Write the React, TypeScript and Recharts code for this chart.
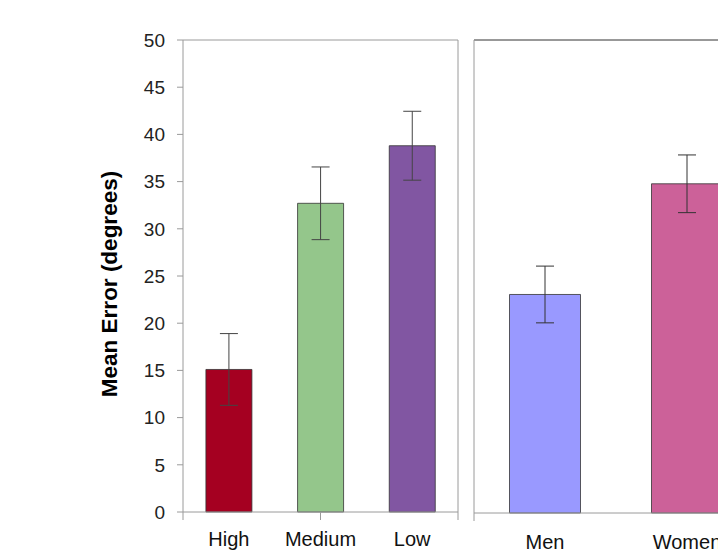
import React from 'react';
import { BarChart, Bar, XAxis, YAxis, ErrorBar, Cell, Label } from 'recharts';

const leftCategories = ['High', 'Medium', 'Low'];
const leftValues = [15.1, 32.7, 38.8];
const leftErrors = [3.8, 3.85, 3.65];
const leftColors = ['#A50021', '#94C68B', '#8156A2'];

const rightCategories = ['Men', 'Women'];
const rightValues = [23.1, 34.8];
const rightErrors = [3.0, 3.05];
const rightColors = ['#9999FF', '#CC6199'];

const yTicks = [0, 5, 10, 15, 20, 25, 30, 35, 40, 45, 50];
const leftBoundaryTicks = [0, 1, 2, 3];
const rightBoundaryTicks = [0, 1, 2];

const leftData = leftCategories.map((name, i) => ({ name, value: leftValues[i], err: leftErrors[i] }));
const rightData = rightCategories.map((name, i) => ({ name, value: rightValues[i], err: rightErrors[i] }));

const FONT = '"Liberation Sans", Arial, sans-serif';
const AXIS_GRAY = '#9a9a9a';

const EmptyTick = () => <g />;

const YLabel = (props: any) => {
  const vb = props.viewBox || { x: 0, y: 0, width: 0, height: 0 };
  const cx = vb.x + 109;
  const cy = vb.y + vb.height / 2 + 8;
  return (
    <text
      x={cx}
      y={cy}
      transform={`rotate(-90, ${cx}, ${cy})`}
      textAnchor="middle"
      dominantBaseline="central"
      fontFamily={FONT}
      fontWeight="bold"
      fontSize={22.5}
      fill="#000"
    >
      Mean Error (degrees)
    </text>
  );
};

export default function App() {
  return (
    <div
      style={{
        position: 'absolute',
        left: 0,
        top: 0,
        width: 718,
        height: 559,
        overflow: 'hidden',
        background: '#fff',
        fontFamily: FONT,
      }}
    >
      <div style={{ position: 'absolute', left: 0, top: 0 }}>
        <BarChart
          width={470}
          height={559}
          data={leftData}
          margin={{ top: 39, right: 11, bottom: 0, left: 0 }}
          barCategoryGap="25%"
        >
          <XAxis
            xAxisId={0}
            type="number"
            domain={[0, 3]}
            ticks={leftBoundaryTicks}
            interval={0}
            height={1}
            tick={EmptyTick}
            tickSize={8}
            tickLine={{ stroke: AXIS_GRAY }}
            axisLine={{ stroke: AXIS_GRAY }}
          />
          <XAxis
            xAxisId={1}
            dataKey="name"
            height={46}
            tickLine={false}
            axisLine={false}
            tickSize={8}
            tickMargin={11}
            tick={{ fill: '#111', fontSize: 20, fontFamily: FONT }}
          />
          <XAxis
            xAxisId={2}
            orientation="top"
            type="number"
            domain={[0, 3]}
            height={1}
            tick={false}
            tickLine={false}
            axisLine={{ stroke: AXIS_GRAY }}
          />
          <YAxis
            yAxisId={0}
            domain={[0, 50]}
            ticks={yTicks}
            interval={0}
            width={183}
            tickSize={6}
            tickMargin={12}
            tickLine={{ stroke: AXIS_GRAY }}
            axisLine={{ stroke: AXIS_GRAY }}
            tick={{ fill: '#222', fontSize: 19, fontFamily: FONT }}
          >
            <Label content={YLabel} />
          </YAxis>
          <YAxis
            yAxisId={1}
            orientation="right"
            domain={[0, 50]}
            width={1}
            tick={false}
            tickLine={false}
            axisLine={{ stroke: AXIS_GRAY }}
          />
          <Bar
            dataKey="value"
            xAxisId={1}
            yAxisId={0}
            isAnimationActive={false}
            stroke="#333"
            strokeWidth={0.8}
          >
            {leftData.map((d, i) => (
              <Cell key={d.name} fill={leftColors[i]} />
            ))}
            <ErrorBar dataKey="err" direction="y" width={9} stroke="#444" strokeWidth={1} />
          </Bar>
        </BarChart>
      </div>
      <div style={{ position: 'absolute', left: 470, top: 0 }}>
        <BarChart
          width={300}
          height={559}
          data={rightData}
          margin={{ top: 39, right: 12, bottom: 0, left: 0 }}
          barCategoryGap="25%"
        >
          <XAxis
            xAxisId={0}
            type="number"
            domain={[0, 2]}
            ticks={rightBoundaryTicks}
            interval={0}
            height={1}
            tick={EmptyTick}
            tickSize={8}
            tickLine={{ stroke: AXIS_GRAY }}
            axisLine={{ stroke: AXIS_GRAY }}
          />
          <XAxis
            xAxisId={1}
            dataKey="name"
            height={45}
            tickLine={false}
            axisLine={false}
            tickSize={8}
            tickMargin={13}
            tick={{ fill: '#111', fontSize: 20, fontFamily: FONT }}
          />
          <XAxis
            xAxisId={2}
            orientation="top"
            type="number"
            domain={[0, 2]}
            height={1}
            tick={false}
            tickLine={false}
            axisLine={{ stroke: '#333' }}
          />
          <YAxis
            yAxisId={0}
            domain={[0, 50]}
            ticks={yTicks}
            width={4}
            tick={false}
            tickLine={false}
            axisLine={{ stroke: AXIS_GRAY }}
          />
          <Bar
            dataKey="value"
            xAxisId={1}
            yAxisId={0}
            isAnimationActive={false}
            stroke="#333"
            strokeWidth={0.8}
          >
            {rightData.map((d, i) => (
              <Cell key={d.name} fill={rightColors[i]} />
            ))}
            <ErrorBar dataKey="err" direction="y" width={9} stroke="#333" strokeWidth={1} />
          </Bar>
        </BarChart>
      </div>
    </div>
  );
}
